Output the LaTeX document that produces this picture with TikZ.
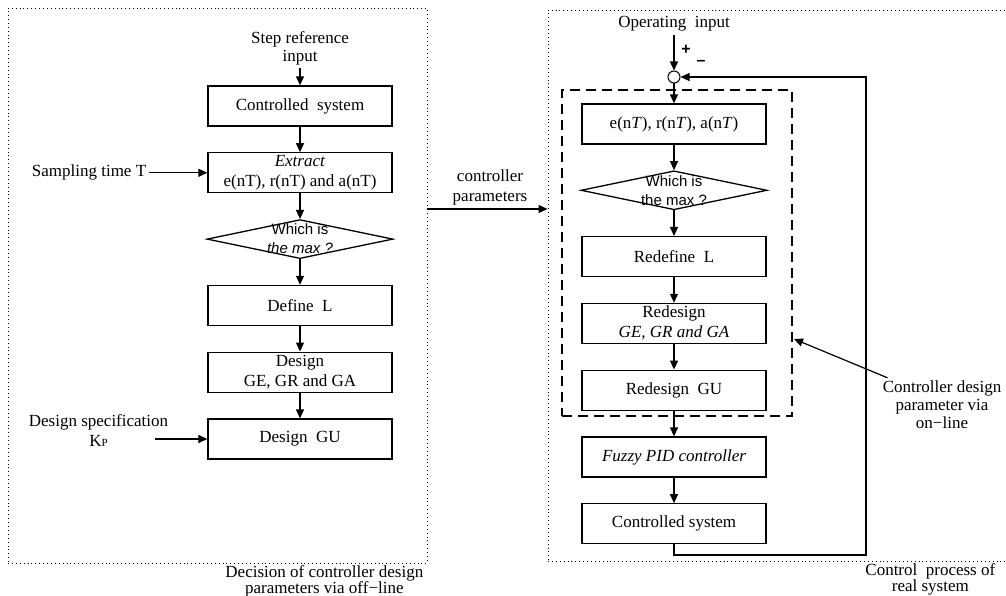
\documentclass[tikz,border=0pt]{standalone}
\usepackage{fontspec}
\setmainfont{Liberation Serif}
\setsansfont{Liberation Sans}
\usetikzlibrary{shapes}
\usetikzlibrary{arrows.meta}
\usetikzlibrary{positioning}

\begin{document}
\begin{tikzpicture}[
            x=1pt, y=1pt,
            every node/.style={font=\fontsize{17}{20}\selectfont, align=center, inner sep=3pt},
            block/.style={draw=black, line width=1.3pt, minimum width=184pt, minimum height=40pt, inner sep=2pt},
            decision/.style={diamond, draw=black, line width=1.3pt, aspect=4.7, minimum width=186pt, minimum height=39pt, inner sep=-5pt, font=\sffamily\fontsize{15}{19}\selectfont},
            flow/.style={draw, line width=1.2pt, -{Triangle[length=9pt, width=8pt]}},
            frame/.style={draw, line width=0.9pt, dash pattern=on 0.9pt off 3pt},
            node distance=25.5pt
        ]
            \useasboundingbox (0,0) rectangle (1006,-596);

            % off-line design
            \node [frame, minimum width=419pt, minimum height=555pt] (offline) at (217.5,-285.5) {};
            \node [font=\fontsize{17}{18}\selectfont] (ref) at (300,-48) {Step reference\\input};
            \node [block] (sys) at (300,-106) {Controlled\ \ system};
            \node [block, below=of sys] (extract) {\textit{Extract}\\e(nT), r(nT) and a(nT)};
            \node [decision, below=of extract] (maxL) {Which is\\\textit{the max ?}};
            \node [block, below=of maxL] (defL) {Define\ \ L};
            \node [block, below=of defL] (desGE) {Design\\GE, GR and GA};
            \node [block, below=of desGE] (desGU) {Design\ \ GU};
            \node [left=58pt of extract] (samp) {Sampling time T};
            \node [left=36pt of desGU, yshift=8pt] (spec) {Design specification\\K{\fontsize{11}{11}\selectfont P}};
            \node [below left=-1pt and 1pt of offline.south east, font=\fontsize{17}{16}\selectfont] (offl) {Decision of controller design\\parameters via off−line};

            % on-line process
            \node [frame, minimum width=458pt, minimum height=551pt] (online) at (777,-285.5) {};
            \node (opin) at (674,-24) {Operating\ \ input};
            \node [circle, draw, line width=1pt, minimum size=12pt, inner sep=0pt] (sum) at (674,-77) {};
            \node [font=\sffamily\bfseries\fontsize{16}{16}\selectfont] (plus) at (686,-50) {+};
            \node [font=\sffamily\bfseries\fontsize{16}{16}\selectfont] (minus) at (701,-63) {--};
            \node [block] (eNT) at (674,-124) {e(n\textit{T}), r(n\textit{T}), a(n\textit{T})};
            \node [decision, below=of eNT] (maxR) {Which is\\the max ?};
            \node [block, below=of maxR] (redefL) {Redefine\ \ L};
            \node [block, below=of redefL] (redesGE) {Redesign\\\textit{GE, GR and GA}};
            \node [block, below=of redesGE] (redesGU) {Redesign\ \ GU};
            \node [block, below=of redesGU] (fpid) {\textit{Fuzzy PID controller}};
            \node [block, below=of fpid] (plant) {Controlled system};
            \node [draw, line width=1.4pt, dash pattern=on 10pt off 6pt, minimum width=230pt, minimum height=326pt] (redesign) at (677,-253) {};
            \node [font=\fontsize{17}{18}\selectfont] (cdp) at (942,-405) {Controller design\\parameter via\\on−line};
            \node [below left=-1pt and 8pt of online.south east, font=\fontsize{17}{16}\selectfont] (onl) {Control\ \ process of\\real system};
            \node (cpar) at (490,-187) {controller\\parameters};
            \coordinate (fbk) at (866,-555);
            \coordinate (cdptip) at (794,-339);

            \draw [flow] (ref) -- (sys);
            \draw [flow] (sys) -- (extract);
            \draw [flow] (extract) -- (maxL);
            \draw [flow] (maxL) -- (defL);
            \draw [flow] (defL) -- (desGE);
            \draw [flow] (desGE) -- (desGU);
            \draw [flow] (samp) -- (extract);
            \draw [flow] ([xshift=-16pt]spec.east |- desGU) -- (desGU);
            \draw [flow] (offline.east |- 0,-209) -- (online.west |- 0,-209);
            \draw [flow] (opin) -- (sum);
            \draw [flow] (sum) -- (eNT);
            \draw [flow] (eNT) -- (maxR);
            \draw [flow] (maxR) -- (redefL);
            \draw [flow] (redefL) -- (redesGE);
            \draw [flow] (redesGE) -- (redesGU);
            \draw [flow] (redesGU) -- (fpid);
            \draw [flow] (fpid) -- (plant);
            \draw [flow] (plant.south) |- (fbk) |- (sum.east);
            \draw [flow] ([xshift=8pt]cdp.north west) -- (cdptip);
        \end{tikzpicture}
\end{document}
